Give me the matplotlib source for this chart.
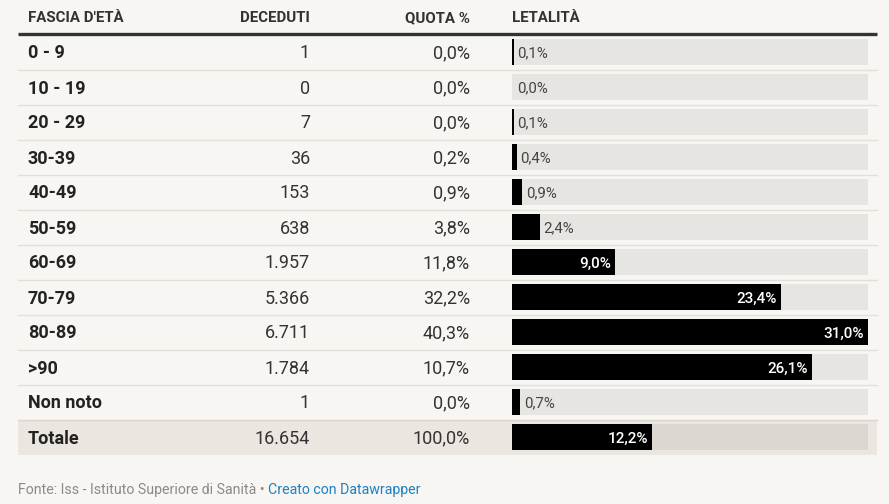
"""Datawrapper-style table: deceduti per fascia d'età (ISS)."""

import matplotlib

matplotlib.use("Agg")
import matplotlib.pyplot as plt
from matplotlib.patches import Rectangle

# Data
fasce = ["0 - 9", "10 - 19", "20 - 29", "30-39", "40-49", "50-59",
         "60-69", "70-79", "80-89", ">90", "Non noto"]
deceduti = ["1", "0", "7", "36", "153", "638", "1.957", "5.366", "6.711", "1.784", "1"]
quota = ["0,0%", "0,0%", "0,0%", "0,2%", "0,9%", "3,8%", "11,8%", "32,2%", "40,3%", "10,7%", "0,0%"]
letalita = [0.1, 0.0, 0.1, 0.4, 0.9, 2.4, 9.0, 23.4, 31.0, 26.1, 0.7]
totale_label = "Totale"
totale_deceduti = "16.654"
totale_quota = "100,0%"
totale_letalita = 12.2
headers = ["FASCIA D'ETÀ", "DECEDUTI", "QUOTA %", "LETALITÀ"]

BG = "#f7f6f2"
TEXT = "#222222"
plt.rcParams["font.family"] = ["Roboto", "DejaVu Sans"]

W, H = 889, 504
fig = plt.figure(figsize=(W / 100, H / 100), dpi=100, facecolor=BG)
ax = fig.add_axes([0, 0, 1, 1])
ax.set_xlim(0, W)
ax.set_ylim(H, 0)
ax.axis("off")

x_left, x_right = 18, 877
x_fascia, x_dec, x_quota = 28, 310, 470
bar_x0, bar_w = 512, 356
bar_h = 26
row0, row_step = 52, 35
vmax = max(letalita)
BODY = 13
DY = 1.5  # nudge text down to optical centre


def fmt(v):
    return f"{v:.1f}".replace(".", ",") + "%"


def draw_bar(yc, value, track_color):
    ax.add_patch(Rectangle((bar_x0, yc - bar_h / 2), bar_w, bar_h,
                           facecolor=track_color, edgecolor="none", zorder=1))
    w = bar_w * value / vmax
    if value > 0:
        ax.add_patch(Rectangle((bar_x0, yc - bar_h / 2), max(w, 1.5), bar_h,
                               facecolor="black", edgecolor="none", zorder=2))
    if w > 60:
        ax.text(bar_x0 + w - 4, yc + DY, fmt(value), ha="right", va="center",
                color="white", fontsize=11, fontweight="medium", zorder=3)
    else:
        ax.text(bar_x0 + max(w, 1.5) + 4, yc + DY, fmt(value), ha="left", va="center",
                color="#444444", fontsize=10.8, zorder=3)


# Header
hy = 18
for x, label, ha in [(x_fascia, headers[0], "left"), (x_dec, headers[1], "right"),
                     (x_quota, headers[2], "right"), (bar_x0, headers[3], "left")]:
    ax.text(x, hy, label, ha=ha, va="center", fontsize=10.8,
            fontweight="bold", color="#333333")
ax.plot([x_left, x_right], [34, 34], color="#333333", lw=2.4, solid_capstyle="butt")

# Rows
for i, (f, d, q, v) in enumerate(zip(fasce, deceduti, quota, letalita)):
    yc = row0 + row_step * i
    ax.text(x_fascia, yc + DY, f, ha="left", va="center", fontsize=BODY,
            fontweight="bold", color=TEXT)
    ax.text(x_dec, yc + DY, d, ha="right", va="center", fontsize=BODY, color="#333333")
    ax.text(x_quota, yc + DY, q, ha="right", va="center", fontsize=BODY, color="#333333")
    draw_bar(yc, v, "#e6e5e1")
    if i < len(fasce) - 1:
        sep = yc + row_step / 2
        ax.plot([x_left, x_right], [sep, sep], color="#e2e0db", lw=1)

# Totale row
yt = row0 + row_step * len(fasce)
ax.add_patch(Rectangle((x_left, yt - row_step / 2), x_right - x_left, row_step,
                       facecolor="#ebe6e0", edgecolor="none", zorder=0))
ax.plot([x_left, x_right], [yt - row_step / 2, yt - row_step / 2], color="#dcd6cf", lw=1)
ax.text(x_fascia, yt + DY, totale_label, ha="left", va="center", fontsize=BODY,
        fontweight="bold", color=TEXT)
ax.text(x_dec, yt + DY, totale_deceduti, ha="right", va="center", fontsize=BODY, color="#333333")
ax.text(x_quota, yt + DY, totale_quota, ha="right", va="center", fontsize=BODY, color="#333333")
draw_bar(yt, totale_letalita, "#dcd7d1")

# Footer
src = ax.text(x_left, 490, "Fonte: Iss - Istituto Superiore di Sanità • ", ha="left",
              va="center", fontsize=10.2, color="#8a8a8a")
ax.annotate("Creato con Datawrapper", xy=(1, 0.5), xycoords=src, ha="left",
            va="center", fontsize=10.2, color="#1d81c4")

fig.savefig("out.png", dpi=100, facecolor=BG)
plt.close(fig)
